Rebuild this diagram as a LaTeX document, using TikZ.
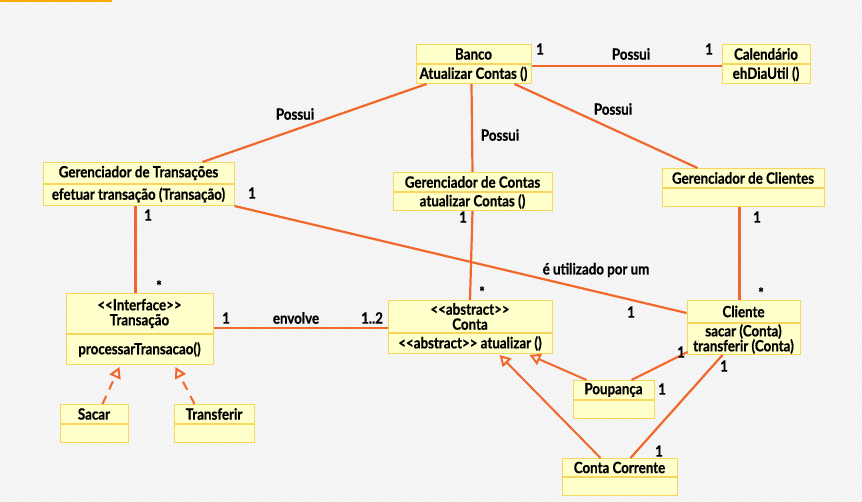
\documentclass[tikz,border=0pt]{standalone}
\usepackage{fontspec}
\setmainfont{Lato}[FakeStretch=0.86, BoldFeatures={FakeBold=0.6}]
\usepackage{tikz}
\usetikzlibrary{arrows.meta,calc,patterns}

\definecolor{linha}{RGB}{240,104,44}
\definecolor{caixa}{RGB}{255,255,204}
\definecolor{borda}{RGB}{246,214,92}
\definecolor{fundo}{RGB}{240,240,240}
\definecolor{barra}{RGB}{247,172,10}

\begin{document}
\begin{tikzpicture}[x=1pt,y=-1pt,
  titulo/.style={draw=borda, fill=caixa, line width=1pt, font=\bfseries\fontsize{15.5}{15}\selectfont,
    inner sep=0.5pt, align=center, anchor=north, minimum height=19pt},
  metodo/.style={titulo},
  assoc/.style={draw=linha, line width=2.2pt},
  heranca/.style={assoc, line width=2pt, -{Triangle[open,length=11pt,width=12pt,line width=2pt]}},
  realiza/.style={heranca, dash pattern=on 9pt off 7pt},
  rot/.style={font=\bfseries\fontsize{15.5}{15}\selectfont, inner sep=0pt}]

% Background
\fill[fundo] (0,0) rectangle (862,502);
\fill[pattern=north east lines, pattern color=white] (0,0) rectangle (862,502);
\useasboundingbox (0,0) rectangle (862,502);
\fill[barra] (0,0) rectangle (112,2.5);

% Classes
\node[titulo, minimum width=115pt] (banco) at (473.5,44) {Banco};
\node[metodo, minimum width=115pt] (bancoM) at (banco.south) {Atualizar Contas ()};

\node[titulo, minimum width=88pt] (cal) at (766,44) {Calendário};
\node[metodo, minimum width=88pt] (calM) at (cal.south) {ehDiaUtil ()};

\node[titulo, minimum width=191pt, minimum height=21pt] (gtrans) at (138.5,162) {Gerenciador de Transações};
\node[metodo, minimum width=191pt, minimum height=21pt] (gtransM) at (gtrans.south) {efetuar transação (Transação)};

\node[titulo, minimum width=159pt] (gcontas) at (472.5,172) {Gerenciador de Contas};
\node[metodo, minimum width=159pt, minimum height=18pt] (gcontasM) at (gcontas.south) {atualizar Contas ()};

\node[titulo, minimum width=162pt] (gcli) at (743,168) {Gerenciador de Clientes};
\node[metodo, minimum width=162pt, minimum height=18pt] (gcliM) at (gcli.south) {};

\node[titulo, minimum width=147pt, minimum height=40pt] (trans) at (139.5,293) {<{}<Interface>{}>\\Transação};
\node[metodo, minimum width=147pt, minimum height=30pt] (transM) at (trans.south) {processarTransacao()};

\node[titulo, minimum width=164pt, minimum height=32pt] (conta) at (470,300) {<{}<abstract>{}>\\Conta};
\node[metodo, minimum width=164pt, minimum height=20pt] (contaM) at (conta.south) {<{}<abstract>{}> atualizar ()};

\node[titulo, minimum width=113pt, minimum height=22pt] (cli) at (743.5,300) {Cliente};
\node[metodo, minimum width=113pt, minimum height=31pt] (cliM) at (cli.south) {sacar (Conta)\\transferir (Conta)};

\node[titulo, minimum width=68pt] (sacar) at (94,404) {Sacar};
\node[metodo, minimum width=68pt, minimum height=18pt] (sacarM) at (sacar.south) {};

\node[titulo, minimum width=80pt] (transf) at (214,404) {Transferir};
\node[metodo, minimum width=80pt, minimum height=18pt] (transfM) at (transf.south) {};

\node[titulo, minimum width=81pt] (poup) at (613.5,380) {Poupança};
\node[metodo, minimum width=81pt, minimum height=18pt] (poupM) at (poup.south) {};

\node[titulo, minimum width=115pt, minimum height=18pt] (cc) at (619.5,458) {Conta Corrente};
\node[metodo, minimum width=115pt, minimum height=18pt] (ccM) at (cc.south) {};

% Associations
\draw[assoc] ($(bancoM.north east)+(0,2)$) -- ($(calM.north west)+(0,2)$);
\draw[assoc] ($(bancoM.south west)+(11,0)$) -- ($(gtrans.north west)+(160,0)$);
\draw[assoc] ($(bancoM.south west)+(56,0)$) -- (gcontas.north);
\draw[assoc] ($(bancoM.south west)+(99,0)$) -- ($(gcli.north west)+(36,0)$);
\draw[assoc] ($(gtransM.south west)+(93,0)$) -- ($(trans.north west)+(70,0)$);
\draw[assoc] (gtransM.south east) -- ($(cli.north west)+(0,13)$);
\draw[assoc] (gcontasM.south) -- (conta.north);
\draw[assoc] ($(gcliM.south west)+(78,0)$) -- ($(cli.north west)+(53,0)$);
\draw[assoc] ($(trans.north east)+(0,35)$) -- ($(conta.north west)+(0,28)$);
\draw[assoc] ($(poup.north west)+(59,0)$) -- ($(cliM.south west)+(1,-3)$);
\draw[assoc] ($(cc.north west)+(69,0)$) -- ($(cliM.south west)+(36,0)$);

% Generalizations
\draw[realiza] ($(sacar.north west)+(43,0)$) -- ($(transM.south west)+(54,2)$);
\draw[realiza] ($(transf.north west)+(21,0)$) -- ($(transM.south west)+(110,2)$);
\draw[heranca] ($(poup.north west)+(14,0)$) -- ($(contaM.south west)+(142,1)$);
\draw[heranca] ($(cc.north west)+(39,0)$) -- ($(contaM.south west)+(112,1)$);

% Labels
\node[rot] (l1) at (540,49) {1};
\node[rot] (l2) at (631,54) {Possui};
\node[rot] (l3) at (709,49) {1};
\node[rot] (l4) at (295,114) {Possui};
\node[rot] (l5) at (500,135) {Possui};
\node[rot] (l6) at (613,109) {Possui};
\node[rot] (l7) at (148,215) {1};
\node[rot] (l8) at (252,193) {1};
\node[rot] (l9) at (159,286) {*};
\node[rot] (l10) at (596,270) {é utilizado por um};
\node[rot] (l11) at (631,312) {1};
\node[rot] (l12) at (463,217) {1};
\node[rot] (l13) at (482,292) {*};
\node[rot] (l14) at (757,217) {1};
\node[rot] (l15) at (761,293) {*};
\node[rot] (l16) at (226,318) {1};
\node[rot] (l17) at (296,318) {envolve};
\node[rot] (l18) at (372,318) {1..2};
\node[rot] (l19) at (662,389) {1};
\node[rot] (l20) at (681,352) {1};
\node[rot] (l21) at (724,366) {1};
\node[rot] (l22) at (659,451) {1};

\end{tikzpicture}
\end{document}
